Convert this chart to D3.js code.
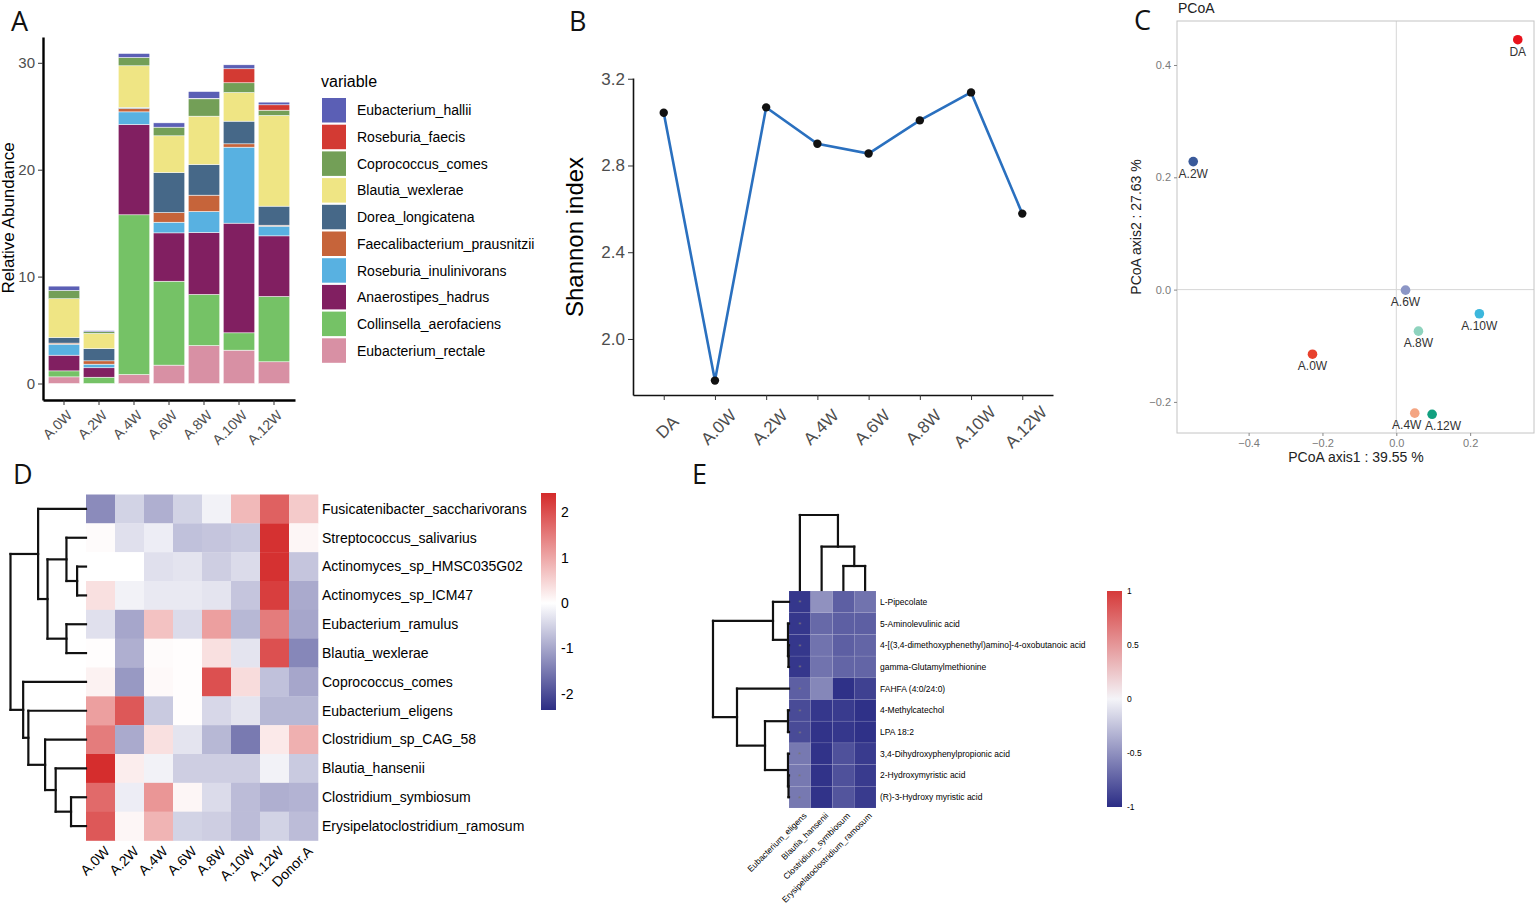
<!DOCTYPE html>
<html>
<head>
<meta charset="utf-8">
<script src="https://cdn.jsdelivr.net/npm/d3@7"></script>
<style>
body { margin: 0; background: #fff; }
svg { font-family: "Liberation Sans", Arial, sans-serif; }
.letter { font-family: "Open Sans", sans-serif; font-size: 27px; fill: #111; }
.axA .tick text, .axB .tick text { fill: #4d4d4d; }
.axA .tick line, .axB .tick line { stroke: #333; }
</style>
</head>
<body>
<svg id="fig" width="1535" height="905"></svg>
<script>
// ---------- data ----------
// A: relative abundance (stacked)
var abGroups = ["A.0W", "A.2W", "A.4W", "A.6W", "A.8W", "A.10W", "A.12W"];
var abSpecies = ["Eubacterium_hallii", "Roseburia_faecis", "Coprococcus_comes", "Blautia_wexlerae",
    "Dorea_longicatena", "Faecalibacterium_prausnitzii", "Roseburia_inulinivorans",
    "Anaerostipes_hadrus", "Collinsella_aerofaciens", "Eubacterium_rectale"];
var abColors = ["#5b5fb5", "#d33a33", "#739f57", "#efe584", "#466888", "#c6643a", "#58b1e1",
    "#811f61", "#75c266", "#d890a4"];
var hallii        = [0.40, 0.10, 0.37, 0.40, 0.63, 0.37, 0.25];
var faecis        = [0.00, 0.00, 0.00, 0.00, 0.05, 1.31, 0.50];
var comes         = [0.78, 0.16, 0.78, 0.81, 1.62, 0.91, 0.50];
var wexlerae      = [3.62, 1.41, 3.90, 3.43, 4.52, 2.68, 8.48];
var dorea         = [0.53, 1.15, 0.10, 3.75, 2.87, 2.12, 1.78];
var faecali       = [0.10, 0.31, 0.31, 0.90, 1.53, 0.31, 0.09];
var inulinivorans = [1.03, 0.34, 1.18, 1.00, 1.96, 7.11, 0.91];
var hadrus        = [1.47, 0.88, 8.45, 4.52, 5.80, 10.26, 5.67];
var collinsella   = [0.56, 0.59, 14.94, 7.85, 4.78, 1.62, 6.11];
var rectale       = [0.62, 0.00, 0.84, 1.72, 3.55, 3.12, 2.03];
var abTicks = [0, 10, 20, 30];

// B: Shannon index
var divGroups = ["DA", "A.0W", "A.2W", "A.4W", "A.6W", "A.8W", "A.10W", "A.12W"];
var shannon = [3.043, 1.808, 3.068, 2.900, 2.855, 3.008, 3.137, 2.578];
var shTicks = [2.0, 2.4, 2.8, 3.2];

// C: PCoA
var pcoaLabels = ["DA", "A.2W", "A.6W", "A.10W", "A.8W", "A.0W", "A.4W", "A.12W"];
var pcoaX = [0.329, -0.550, 0.025, 0.225, 0.060, -0.227, 0.050, 0.097];
var pcoaY = [0.445, 0.228, -0.001, -0.043, -0.074, -0.115, -0.220, -0.222];
var pcoaColors = ["#e8121c", "#3a5a9a", "#8c96c6", "#3cb7dc", "#8fd3be", "#e8412d", "#f4a582", "#12a080"];
var pcoaXTicks = [-0.4, -0.2, 0.0, 0.2];
var pcoaYTicks = [-0.2, 0.0, 0.2, 0.4];

// D: species heatmap (row z-scores)
var dRows = ["Fusicatenibacter_saccharivorans", "Streptococcus_salivarius", "Actinomyces_sp_HMSC035G02",
    "Actinomyces_sp_ICM47", "Eubacterium_ramulus", "Blautia_wexlerae", "Coprococcus_comes",
    "Eubacterium_eligens", "Clostridium_sp_CAG_58", "Blautia_hansenii", "Clostridium_symbiosum",
    "Erysipelatoclostridium_ramosum"];
var dCols = ["A.0W", "A.2W", "A.4W", "A.6W", "A.8W", "A.10W", "A.12W", "Donor.A"];
var dValues = [
    [-1.30, -0.50, -0.90, -0.50, -0.15,  0.80,  1.80,  0.60],
    [ 0.05, -0.35, -0.20, -0.70, -0.65, -0.60,  2.35,  0.10],
    [ 0.00,  0.00, -0.35, -0.30, -0.55, -0.40,  2.35, -0.65],
    [ 0.35, -0.15, -0.25, -0.25, -0.30, -0.65,  2.20, -0.95],
    [-0.35, -1.00,  0.70, -0.40,  1.10, -0.80,  1.50, -1.00],
    [ 0.02, -0.90,  0.05,  0.02,  0.35, -0.30,  2.00, -1.35],
    [ 0.15, -1.15,  0.07,  0.02,  2.00,  0.40, -0.70, -1.00],
    [ 1.10,  1.90, -0.60,  0.02, -0.45, -0.30, -0.80, -0.80],
    [ 1.50, -0.95,  0.35, -0.30, -0.80, -1.50,  0.25,  0.90],
    [ 2.40,  0.20, -0.15, -0.55, -0.55, -0.55, -0.15, -0.60],
    [ 1.70, -0.20,  1.20,  0.10, -0.40, -0.75, -0.90, -0.85],
    [ 1.90,  0.10,  0.85, -0.50, -0.55, -0.75, -0.50, -0.75]];
var dRange = [-2.36, 2.43];
var dLegendTicks = [-2, -1, 0, 1, 2];
// hclust-style merges: negative = leaf (1-based), positive = earlier merge
var dMerge = [[-3, -4], [-2, 1], [-5, -6], [2, 3], [-1, 4], [-11, -12], [-10, 6], [-9, 7], [-8, 8], [-7, 9], [5, 10]];
var dHeight = [0.89, 1.96, 1.96, 3.86, 4.80, 1.50, 3.04, 4.10, 5.78, 6.30, 7.57];

// E: correlation heatmap
var eRows = ["L-Pipecolate", "5-Aminolevulinic acid", "4-[(3,4-dimethoxyphenethyl)amino]-4-oxobutanoic acid",
    "gamma-Glutamylmethionine", "FAHFA (4:0/24:0)", "4-Methylcatechol", "LPA 18:2",
    "3,4-Dihydroxyphenylpropionic acid", "2-Hydroxymyristic acid", "(R)-3-Hydroxy myristic acid"];
var eCols = ["Eubacterium_eligens", "Blautia_hansenii", "Clostridium_symbiosum", "Erysipelatoclostridium_ramosum"];
var eValues = [
    [-0.95, -0.50, -0.75, -0.65],
    [-0.95, -0.70, -0.75, -0.75],
    [-0.95, -0.65, -0.75, -0.72],
    [-0.95, -0.65, -0.72, -0.72],
    [-0.75, -0.55, -0.98, -0.90],
    [-0.85, -0.95, -0.93, -0.98],
    [-0.85, -0.97, -0.95, -0.98],
    [-0.62, -0.97, -0.82, -0.93],
    [-0.62, -0.97, -0.82, -0.93],
    [-0.62, -0.97, -0.80, -0.93]];
var eSignif = [
    [1, 0, 0, 0], [1, 0, 0, 0], [1, 0, 0, 0], [1, 0, 0, 0], [0, 0, 1, 0],
    [0, 0, 0, 1], [0, 0, 0, 1], [0, 1, 0, 0], [0, 1, 0, 0], [0, 1, 0, 0]];
var eLegendTicks = [-1, -0.5, 0, 0.5, 1];
var eRowMerge = [[-3, -4], [-2, 1], [-1, 2], [-6, -7], [-9, -10], [-8, 5], [4, 6], [-5, 7], [3, 8]];
var eRowHeight = [0.05, 0.10, 1.60, 0.10, 0.05, 0.10, 2.40, 5.20, 7.60];
var eColMerge = [[-3, -4], [-2, 1], [-1, 2]];
var eColHeight = [2.40, 4.33, 7.50];

// ---------- drawing ----------
var svg = d3.select("#fig");

function letter(t, x, y) {
    svg.append("text").attr("class", "letter").attr("x", x).attr("y", y).text(t);
}
letter("A", 11, 31);
letter("B", 569, 31);
letter("C", 1134, 30);
letter("D", 13, 484);
letter("E", 692, 484);

function expand(lo, hi) {
    var p = (hi - lo) * 0.05;
    return [lo - p, hi + p];
}

// ===== A =====
var abSeries = {
    "Eubacterium_hallii": hallii, "Roseburia_faecis": faecis, "Coprococcus_comes": comes,
    "Blautia_wexlerae": wexlerae, "Dorea_longicatena": dorea, "Faecalibacterium_prausnitzii": faecali,
    "Roseburia_inulinivorans": inulinivorans, "Anaerostipes_hadrus": hadrus,
    "Collinsella_aerofaciens": collinsella, "Eubacterium_rectale": rectale
};
var abColor = d3.scaleOrdinal().domain(abSpecies).range(abColors);
var abTable = abGroups.map(function(g, i) {
    var r = {group: g};
    abSpecies.forEach(function(s) { r[s] = abSeries[s][i]; });
    return r;
});
var stacked = d3.stack().keys(abSpecies.slice().reverse())(abTable);
var abTotals = abTable.map(function(r) { return d3.sum(abSpecies, function(s) { return r[s]; }); });

var ax = d3.scaleBand().domain(abGroups).range([43, 295]).paddingInner(0.1).paddingOuter(0.15);
var ay = d3.scaleLinear().domain(expand(0, d3.max(abTotals))).range([400, 37]);

var gA = svg.append("g");
gA.selectAll("g.layer")
    .data(stacked)
  .enter().append("g")
    .attr("fill", function(d) { return abColor(d.key); })
    .selectAll("rect")
    .data(function(d) { return d; })
  .enter().append("rect")
    .attr("x", function(d) { return ax(d.data.group); })
    .attr("width", ax.bandwidth())
    .attr("y", function(d) { return ay(d[1]); })
    .attr("height", function(d) { return Math.max(0, ay(d[0]) - ay(d[1])); })
    .attr("stroke", "#fff")
    .attr("stroke-width", 0.5);

var axA = gA.append("g").attr("class", "axA").attr("transform", "translate(43,0)")
    .call(d3.axisLeft(ay).tickValues(abTicks).tickSize(5).tickPadding(3).tickSizeOuter(0));
axA.selectAll("text").style("font-size", "15px");
axA.select(".domain").attr("stroke", "#000").attr("stroke-width", 2.4);

var axAx = gA.append("g").attr("class", "axA").attr("transform", "translate(0,400)")
    .call(d3.axisBottom(ax).tickSize(5).tickSizeOuter(0));
axAx.select(".domain").attr("stroke", "#000").attr("stroke-width", 2.4);
axAx.selectAll("text")
    .style("font-size", "14px")
    .attr("text-anchor", "end")
    .attr("dy", "0.71em")
    .attr("y", 0)
    .attr("transform", "translate(2,9) rotate(-45)");

gA.append("text")
    .attr("transform", "translate(14,218) rotate(-90)")
    .attr("text-anchor", "middle")
    .style("font-size", "17px")
    .text("Relative Abundance");

var legA = gA.append("g").attr("transform", "translate(321,0)");
legA.append("text").attr("x", 0).attr("y", 87).style("font-size", "16px").text("variable");
var legItem = legA.selectAll("g.item")
    .data(abSpecies)
  .enter().append("g")
    .attr("transform", function(d, i) { return "translate(0," + (98 + i * 26.7) + ")"; });
legItem.append("rect").attr("x", 1).attr("width", 24).attr("height", 24.5)
    .attr("fill", function(d) { return abColor(d); });
legItem.append("text").attr("x", 36).attr("y", 12.5).attr("dy", "0.35em")
    .style("font-size", "14px").text(function(d) { return d; });

// ===== B =====
var gB = svg.append("g");
var bx = d3.scalePoint().domain(divGroups).range([633, 1053]).padding(0.6);
var by = d3.scaleLinear().domain(expand(d3.min(shannon), d3.max(shannon))).range([395, 78]);

gB.append("path")
    .datum(shannon)
    .attr("fill", "none")
    .attr("stroke", "#2a70bf")
    .attr("stroke-width", 2.6)
    .attr("d", d3.line().x(function(d, i) { return bx(divGroups[i]); }).y(function(d) { return by(d); }));
gB.selectAll("circle")
    .data(shannon)
  .enter().append("circle")
    .attr("cx", function(d, i) { return bx(divGroups[i]); })
    .attr("cy", function(d) { return by(d); })
    .attr("r", 4.2)
    .attr("fill", "#111");

var axB = gB.append("g").attr("class", "axB").attr("transform", "translate(633,0)")
    .call(d3.axisLeft(by).tickValues(shTicks).tickFormat(d3.format(".1f")).tickSize(5).tickPadding(3).tickSizeOuter(0));
axB.selectAll("text").style("font-size", "17px");
axB.select(".domain").attr("stroke", "#111").attr("stroke-width", 1.6);
var axBx = gB.append("g").attr("class", "axB").attr("transform", "translate(0,395)")
    .call(d3.axisBottom(bx).tickSize(5).tickSizeOuter(0));
axBx.select(".domain").attr("stroke", "#111").attr("stroke-width", 1.6);
axBx.selectAll("text")
    .style("font-size", "17px")
    .attr("text-anchor", "middle")
    .attr("dy", "0.35em")
    .attr("y", 0)
    .attr("transform", "translate(3,32) rotate(-45)");

gB.append("text")
    .attr("transform", "translate(583,237) rotate(-90)")
    .attr("text-anchor", "middle")
    .style("font-size", "24px")
    .text("Shannon index");

// ===== C =====
var gC = svg.append("g");
var cx = d3.scaleLinear().domain(expand(d3.min(pcoaX), d3.max(pcoaX))).range([1177, 1534]);
var cy = d3.scaleLinear().domain(expand(d3.min(pcoaY), d3.max(pcoaY))).range([433, 21]);

gC.append("text").attr("x", 1178).attr("y", 13).style("font-size", "14px").attr("fill", "#222").text("PCoA");
gC.append("line").attr("x1", cx(0)).attr("x2", cx(0)).attr("y1", 21).attr("y2", 433)
    .attr("stroke", "#d6d6d6").attr("stroke-width", 1);
gC.append("line").attr("x1", 1177).attr("x2", 1534).attr("y1", cy(0)).attr("y2", cy(0))
    .attr("stroke", "#d6d6d6").attr("stroke-width", 1);
gC.append("rect").attr("x", 1177).attr("y", 21).attr("width", 357).attr("height", 412)
    .attr("fill", "none").attr("stroke", "#c4c4c4").attr("stroke-width", 1);

var axCx = gC.append("g").attr("transform", "translate(0,433)")
    .call(d3.axisBottom(cx).tickValues(pcoaXTicks).tickFormat(d3.format(".1f")).tickSize(3).tickSizeOuter(0));
var axCy = gC.append("g").attr("transform", "translate(1177,0)")
    .call(d3.axisLeft(cy).tickValues(pcoaYTicks).tickFormat(d3.format(".1f")).tickSize(3).tickSizeOuter(0));
[axCx, axCy].forEach(function(a) {
    a.select(".domain").remove();
    a.selectAll("line").attr("stroke", "#888");
    a.selectAll("text").style("font-size", "11px").attr("fill", "#7a7a7a");
});

// label nudges (repel result)
var pcoaNudge = {"A.4W": -8, "A.12W": 11};
gC.selectAll("circle")
    .data(pcoaLabels)
  .enter().append("circle")
    .attr("cx", function(d, i) { return cx(pcoaX[i]); })
    .attr("cy", function(d, i) { return cy(pcoaY[i]); })
    .attr("r", 4.8)
    .attr("fill", function(d, i) { return pcoaColors[i]; });
gC.selectAll("text.lab")
    .data(pcoaLabels)
  .enter().append("text")
    .attr("class", "lab")
    .attr("x", function(d, i) { return cx(pcoaX[i]) + (pcoaNudge[d] || 0); })
    .attr("y", function(d, i) { return cy(pcoaY[i]) + 16; })
    .attr("text-anchor", "middle")
    .style("font-size", "12px")
    .attr("fill", "#333")
    .text(function(d) { return d; });

gC.append("text").attr("x", 1356).attr("y", 462).attr("text-anchor", "middle")
    .style("font-size", "14px").attr("fill", "#222").text("PCoA axis1 : 39.55 %");
gC.append("text").attr("transform", "translate(1141,227) rotate(-90)").attr("text-anchor", "middle")
    .style("font-size", "14px").attr("fill", "#222").text("PCoA axis2 : 27.63 %");

// ---------- dendrogram helper ----------
function drawTree(g, merge, height, leafPos, hScale, base, orient) {
    var nodes = [];
    function get(k) {
        return k < 0 ? {p: leafPos(-k - 1), h: 0} : nodes[k - 1];
    }
    var segs = [];
    merge.forEach(function(m, i) {
        var a = get(m[0]), b = get(m[1]), h = height[i];
        segs.push([a.p, a.h, a.p, h], [b.p, b.h, b.p, h], [a.p, h, b.p, h]);
        nodes.push({p: (a.p + b.p) / 2, h: h});
    });
    g.selectAll("line")
        .data(segs)
      .enter().append("line")
        .attr("x1", function(s) { return orient == "left" ? base - hScale(s[1]) : s[0]; })
        .attr("y1", function(s) { return orient == "left" ? s[0] : base - hScale(s[1]); })
        .attr("x2", function(s) { return orient == "left" ? base - hScale(s[3]) : s[2]; })
        .attr("y2", function(s) { return orient == "left" ? s[2] : base - hScale(s[3]); })
        .attr("stroke", "#111")
        .attr("stroke-width", 2.2)
        .attr("stroke-linecap", "square");
}

function colorBar(g, id, x, y0, y1, w, scale, stops, ticks, fmt, fontSize) {
    var grad = svg.append("defs").append("linearGradient").attr("id", id)
        .attr("x1", 0).attr("y1", 1).attr("x2", 0).attr("y2", 0);
    var dom = scale.domain();
    stops.forEach(function(v) {
        grad.append("stop").attr("offset", (v - dom[0]) / (dom[dom.length - 1] - dom[0])).attr("stop-color", scale(v));
    });
    var ly = d3.scaleLinear().domain([dom[0], dom[dom.length - 1]]).range([y1, y0]);
    g.append("rect").attr("x", x).attr("y", y0).attr("width", w).attr("height", y1 - y0)
        .attr("fill", "url(#" + id + ")");
    g.selectAll("text.cb")
        .data(ticks)
      .enter().append("text")
        .attr("class", "cb")
        .attr("x", x + w + 5)
        .attr("y", function(d) { return ly(d); })
        .attr("dy", "0.35em")
        .style("font-size", fontSize)
        .text(fmt);
}

// ===== D =====
var gD = svg.append("g");
var dx = d3.scaleBand().domain(dCols).range([86, 318]);
var dy = d3.scaleBand().domain(dRows).range([494.5, 840.5]);
var dColor = d3.scaleLinear().domain([dRange[0], 0, dRange[1]]).range(["#2c2d84", "#ffffff", "#d42a2a"]);

dValues.forEach(function(row, i) {
    gD.selectAll("rect.r" + i)
        .data(row)
      .enter().append("rect")
        .attr("x", function(v, j) { return dx(dCols[j]); })
        .attr("y", dy(dRows[i]))
        .attr("width", dx.bandwidth() + 0.3)
        .attr("height", dy.bandwidth() + 0.3)
        .attr("fill", function(v) { return dColor(v); });
});
gD.selectAll("text.row")
    .data(dRows)
  .enter().append("text")
    .attr("x", 322)
    .attr("y", function(d) { return dy(d) + dy.bandwidth() / 2; })
    .attr("dy", "0.35em")
    .style("font-size", "14px")
    .text(function(d) { return d; });
gD.selectAll("text.col")
    .data(dCols)
  .enter().append("text")
    .attr("text-anchor", "end")
    .attr("dy", "0.71em")
    .attr("transform", function(d) { return "translate(" + (dx(d) + dx.bandwidth() / 2 + 3) + ",845) rotate(-45)"; })
    .style("font-size", "14px")
    .text(function(d) { return d; });

var dH = d3.scaleLinear().domain([0, d3.max(dHeight)]).range([0, 75.5]);
drawTree(gD.append("g"), dMerge, dHeight, function(k) { return dy(dRows[k]) + dy.bandwidth() / 2; }, dH, 86, "left");

colorBar(gD, "gradD", 541, 493, 710, 15, dColor, [dRange[0], 0, dRange[1]], dLegendTicks,
    function(d) { return d; }, "14px");

// ===== E =====
var gE = svg.append("g");
var ex = d3.scaleBand().domain(eCols).range([789, 876]);
var ey = d3.scaleBand().domain(eRows).range([591, 808]);
var eColor = d3.scaleLinear().domain([-1, 0, 1]).range(["#2b2d86", "#f4f4f8", "#d63a3a"]);

eValues.forEach(function(row, i) {
    gE.selectAll("rect.r" + i)
        .data(row)
      .enter().append("rect")
        .attr("x", function(v, j) { return ex(eCols[j]); })
        .attr("y", ey(eRows[i]))
        .attr("width", ex.bandwidth())
        .attr("height", ey.bandwidth())
        .attr("fill", function(v) { return eColor(v); })
        .attr("stroke", "rgba(255,255,255,0.12)")
        .attr("stroke-width", 0.6);
    gE.selectAll("text.s" + i)
        .data(eSignif[i])
      .enter().filter(function(s) { return s; })
      .append("text")
        .attr("x", function(s, j) { return ex(eCols[j]) + ex.bandwidth() / 2; })
        .attr("y", ey(eRows[i]) + ey.bandwidth() / 2 + 3.5)
        .attr("text-anchor", "middle")
        .style("font-size", "8px")
        .attr("fill", "#777")
        .text("*");
});
gE.selectAll("text.row")
    .data(eRows)
  .enter().append("text")
    .attr("x", 880)
    .attr("y", function(d) { return ey(d) + ey.bandwidth() / 2; })
    .attr("dy", "0.35em")
    .style("font-size", "8.5px")
    .text(function(d) { return d; });
gE.selectAll("text.col")
    .data(eCols)
  .enter().append("text")
    .attr("text-anchor", "end")
    .attr("dy", "0.71em")
    .attr("transform", function(d) { return "translate(" + (ex(d) + ex.bandwidth() / 2 + 3) + ",812) rotate(-45)"; })
    .style("font-size", "8.5px")
    .text(function(d) { return d; });

var eRH = d3.scaleLinear().domain([0, d3.max(eRowHeight)]).range([0, 76]);
drawTree(gE.append("g"), eRowMerge, eRowHeight, function(k) { return ey(eRows[k]) + ey.bandwidth() / 2; }, eRH, 789, "left");
var eCH = d3.scaleLinear().domain([0, d3.max(eColHeight)]).range([0, 75]);
drawTree(gE.append("g"), eColMerge, eColHeight, function(k) { return ex(eCols[k]) + ex.bandwidth() / 2; }, eCH, 590, "top");

colorBar(gE, "gradE", 1107, 591, 807, 15, eColor, [-1, 0, 1], eLegendTicks,
    function(d) { return d; }, "8.5px");
</script>
</body>
</html>
